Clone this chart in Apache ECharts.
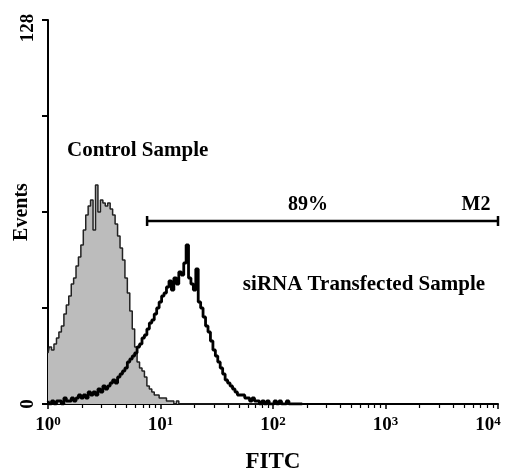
<!DOCTYPE html>
<html>
<head>
<meta charset="utf-8">
<script src="https://cdn.jsdelivr.net/npm/echarts@6/dist/echarts.min.js"></script>
<style>
html,body{margin:0;padding:0;background:#fff;}
#chart{width:512px;height:473px;}
</style>
</head>
<body>
<div id="chart"></div>
<script>
// FITC bin centres (log-spaced channels)
const fitcBins = [
  1.00,1.05,1.10,1.16,1.22,1.28,1.35,1.42,1.49,1.57,
  1.65,1.73,1.82,1.91,2.01,2.11,2.22,2.33,2.45,2.58,
  2.71,2.85,3.00,3.15,3.31,3.48,3.66,3.85,4.05,4.26,
  4.48,4.71,4.95,5.20,5.47,5.75,6.04,6.35,6.68,7.02,
  7.38,7.76,8.16,8.58,9.02,9.48,9.97,10.5,11.0,11.6,
  12.2,12.8,13.5,14.2,14.9,15.7,16.5,17.3,18.2,19.1,
  20.1,21.1,22.2,23.3,24.5,25.8,27.1,28.5,30.0,31.5,
  33.1,34.8,36.6,38.5,40.5,42.6,44.8,47.1,49.5,52.0,
  54.7,57.5,60.4,63.5,66.8,70.2,73.8,77.6,81.6,85.8,
  90.2,94.8,99.7,105,110,116,122,128,135,142,
  149,157,165,173,182
];
// Control sample events per bin
const controlEvents = [
  17,19,18,20,22,24,26,30,33,36,
  40,42,46,49,53,58,63,66,68,58,
  73,64,68,67,66,67,65,63,60,56,
  52,48,42,37,31,25,19,14,12,11,
  9,6,5,4,3,3,2,2,2,1,
  1,1,0,1,0,0,0,0,0,0,
  0,0,0,0,0,0,0,0,0,0,
  0,0,0,0,0,0,0,0,0,0,
  0,0,0,0,0,0,0,0,0,0,
  0,0,0,0,0,0,0,0,0,0,
  0,0,0,0,0
];
// siRNA transfected sample events per bin
const sirnaEvents = [
  1,0,1,0,1,1,0,2,1,1,
  2,1,2,3,2,3,2,4,3,4,
  3,5,4,6,5,6,7,8,7,9,
  10,11,12,14,15,16,17,19,20,22,
  23,25,27,28,30,32,34,36,37,39,
  41,38,42,40,44,43,47,53,42,40,
  38,45,34,32,29,26,24,21,18,16,
  14,12,10,8,7,6,5,4,3,3,
  3,2,2,1,2,1,1,0,1,0,
  1,0,0,1,0,1,0,0,1,0,
  0,0,0,0,0
];
// Marker M2
const markerRange = [7.6, 10000];
const markerLevel = 61;
const markerName = 'M2';
const markerPercent = '89%';
const yTicks = [0, 128];

const FONT = '"Liberation Serif", "Times New Roman", serif';

const ctrlData = fitcBins.map((x, i) => [x, controlEvents[i]]);
const sirnaData = fitcBins.map((x, i) => [x, sirnaEvents[i]]);
const markerData = markerRange.map(x => [x, markerLevel]);

const chart = echarts.init(document.getElementById('chart'), null, {renderer: 'canvas'});
chart.setOption({
  animation: false,
  backgroundColor: '#ffffff',
  grid: {left: 48, right: 14, top: 20, bottom: 69, containLabel: false, outerBoundsMode: 'none'},
  xAxis: {
    type: 'log', logBase: 10, min: 1, max: 10000,
    name: 'FITC', nameLocation: 'middle', nameGap: 47, nameMoveOverlap: false,
    nameTextStyle: {fontFamily: FONT, fontWeight: 'bold', fontSize: 23, color: '#000'},
    axisLine: {show: true, lineStyle: {color: '#000', width: 2}},
    axisTick: {show: true, length: 5, lineStyle: {color: '#000', width: 1.5}},
    minorTick: {show: true, splitNumber: 9, length: 4, lineStyle: {color: '#000', width: 1.2}},
    splitLine: {show: false},
    minorSplitLine: {show: false},
    axisLabel: {
      margin: 11,
      formatter: function (v) {
        const e = Math.round(Math.log10(v));
        return e === 4 ? '{b|10}{sl|' + e + '}' : '{b|10}{s|' + e + '}';
      },
      rich: {
        b: {fontFamily: FONT, fontWeight: 'bold', fontSize: 19, lineHeight: 20, color: '#000'},
        s: {fontFamily: FONT, fontWeight: 'bold', fontSize: 13, lineHeight: 12, verticalAlign: 'top', color: '#000'},
        sl: {fontFamily: FONT, fontWeight: 'bold', fontSize: 13, lineHeight: 12, verticalAlign: 'top', color: '#000', padding: [0, 20, 0, 0]}
      }
    }
  },
  yAxis: {
    type: 'value', min: 0, max: 128, interval: 32,
    name: 'Events', nameLocation: 'middle', nameGap: 16, nameRotate: 90, nameMoveOverlap: false,
    nameTextStyle: {fontFamily: FONT, fontWeight: 'bold', fontSize: 20, color: '#000'},
    axisLine: {show: true, lineStyle: {color: '#000', width: 2}},
    axisTick: {show: true, length: 6, lineStyle: {color: '#000', width: 2}},
    splitLine: {show: false},
    axisLabel: {
      rotate: 90, margin: 10,
      fontFamily: FONT, fontWeight: 'bold', fontSize: 19, color: '#000',
      formatter: function (v) {
        if (yTicks.indexOf(v) < 0) return '';
        return v === 128 ? '{top|' + v + '}' : String(v);
      },
      rich: {
        top: {fontFamily: FONT, fontWeight: 'bold', fontSize: 19, color: '#000', padding: [0, 16, 0, 0]}
      }
    }
  },
  series: [
    {
      name: 'Control Sample', type: 'line', data: ctrlData, step: 'middle',
      symbol: 'none', z: 2,
      lineStyle: {color: '#222', width: 1.5},
      areaStyle: {color: '#bcbcbc', opacity: 1}
    },
    {
      name: 'siRNA Transfected Sample', type: 'line', data: sirnaData, step: 'middle',
      symbol: 'none', z: 3,
      lineStyle: {color: '#000', width: 2.8}
    },
    {
      name: markerName, type: 'line', data: markerData, z: 4, clip: false,
      symbol: 'rect', symbolSize: [2.5, 10], showSymbol: true,
      itemStyle: {color: '#000'},
      lineStyle: {color: '#000', width: 2.5}
    }
  ],
  graphic: [
    {type: 'text', left: 67, top: 140, style: {text: 'Control Sample', font: 'bold 21px ' + FONT, fill: '#000'}},
    {type: 'text', x: 308, y: 205, style: {text: markerPercent, font: 'bold 20px ' + FONT, fill: '#000', align: 'center', verticalAlign: 'middle'}},
    {type: 'text', x: 476, y: 205, style: {text: markerName, font: 'bold 20px ' + FONT, fill: '#000', align: 'center', verticalAlign: 'middle'}},
    {type: 'text', x: 364, y: 285, style: {text: 'siRNA Transfected Sample', font: 'bold 21px ' + FONT, fill: '#000', align: 'center', verticalAlign: 'middle'}}
  ]
});
</script>
</body>
</html>
